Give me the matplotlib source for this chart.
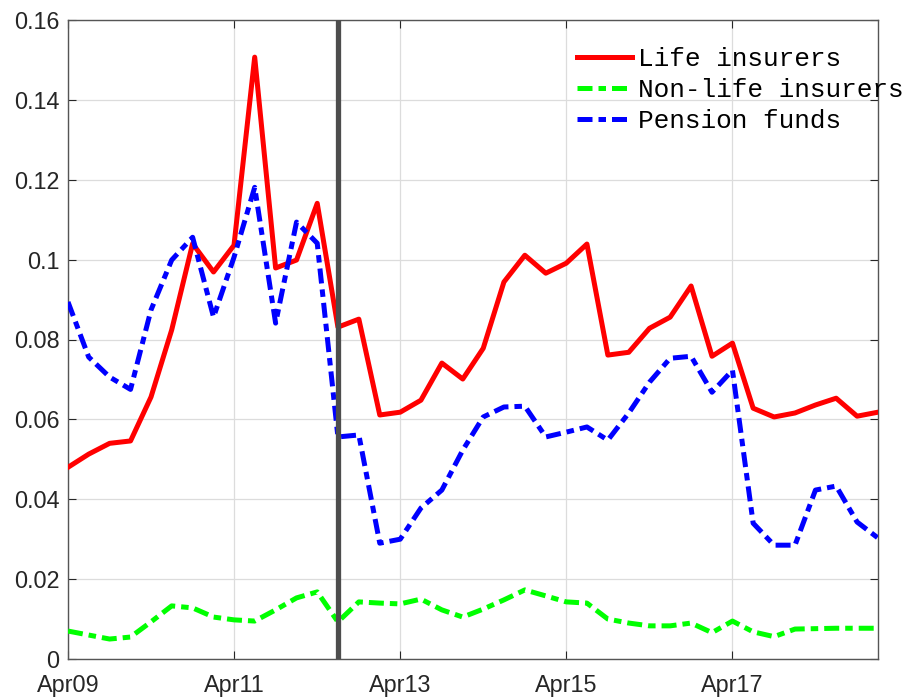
import pandas as pd
import matplotlib
matplotlib.use("Agg")
import matplotlib.pyplot as plt
import matplotlib.dates as mdates
from matplotlib.ticker import FuncFormatter

# Quarterly series, Apr09 .. Jan19
fechas = pd.date_range("2009-04-01", periods=40, freq="QS")

life = [0.0480, 0.0513, 0.0540, 0.0546, 0.0656, 0.0824, 0.1040, 0.0969, 0.1036, 0.1507,
        0.0979, 0.0999, 0.1141, 0.0831, 0.0851, 0.0611, 0.0618, 0.0648, 0.0741, 0.0701,
        0.0778, 0.0944, 0.1011, 0.0966, 0.0991, 0.1039, 0.0761, 0.0768, 0.0828, 0.0856,
        0.0934, 0.0758, 0.0791, 0.0628, 0.0606, 0.0616, 0.0636, 0.0653, 0.0608, 0.0618]

non_life = [0.0070, 0.0060, 0.0050, 0.0055, 0.0093, 0.0133, 0.0128, 0.0105, 0.0098, 0.0095,
            0.0123, 0.0153, 0.0168, 0.0093, 0.0143, 0.0140, 0.0138, 0.0150, 0.0123, 0.0105,
            0.0125, 0.0148, 0.0173, 0.0158, 0.0143, 0.0140, 0.0100, 0.0090, 0.0083, 0.0083,
            0.0090, 0.0066, 0.0095, 0.0068, 0.0056, 0.0075, 0.0076, 0.0077, 0.0077, 0.0077]

pension = [0.0894, 0.0756, 0.0706, 0.0675, 0.0874, 0.0999, 0.1056, 0.0856, 0.1006, 0.1181,
           0.0841, 0.1094, 0.1041, 0.0556, 0.0561, 0.0290, 0.0300, 0.0378, 0.0423, 0.0523,
           0.0606, 0.0631, 0.0633, 0.0556, 0.0568, 0.0581, 0.0548, 0.0616, 0.0693, 0.0753,
           0.0758, 0.0668, 0.0723, 0.0340, 0.0285, 0.0285, 0.0423, 0.0433, 0.0343, 0.0303]

etiquetas = ["Life insurers", "Non-life insurers", "Pension funds"]
fecha_evento = pd.Timestamp("2012-07-01")
ticks_x = pd.to_datetime(["2009-04-01", "2011-04-01", "2013-04-01", "2015-04-01", "2017-04-01"])

gris = "#262626"

fig = plt.figure(figsize=(9.07, 7.0), dpi=100)
ax = fig.add_axes([68 / 907, 41 / 700, 810 / 907, 639 / 700])

ax.plot(fechas, life, color="red", lw=3.6, label=etiquetas[0], zorder=3)
ax.plot(fechas, non_life, color="#00ff00", lw=3.6, dashes=(3.0, 1.2, 1.5, 1.2),
        label=etiquetas[1], zorder=3)
ax.plot(fechas, pension, color="blue", lw=3.6, dashes=(3.0, 1.2, 1.5, 1.2),
        label=etiquetas[2], zorder=3)
ax.axvline(fecha_evento, color="#4d4d4d", lw=3.8, zorder=4)

ax.set_xlim(fechas[0], fechas[-1])
ax.set_ylim(0, 0.16)
ax.set_yticks([0, 0.02, 0.04, 0.06, 0.08, 0.1, 0.12, 0.14, 0.16])
ax.yaxis.set_major_formatter(FuncFormatter(lambda v, p: "%g" % round(v, 2)))
ax.set_xticks(ticks_x)
ax.xaxis.set_major_formatter(mdates.DateFormatter("%b%y"))

ax.grid(True, color="#dcdcdc", lw=0.9)
ax.set_axisbelow(True)
ax.tick_params(direction="in", length=6, width=0.8, colors=gris, labelsize=16.8,
               top=True, right=True)
ax.tick_params(axis="y", pad=6)
ax.tick_params(axis="x", pad=11)
for lbl in ax.get_xticklabels() + ax.get_yticklabels():
    lbl.set_family("Liberation Sans")
for s in ax.spines.values():
    s.set_color("#555555")
    s.set_linewidth(1.0)

leg = ax.legend(loc="upper left", bbox_to_anchor=(0.6156, 0.9745), frameon=False,
                prop={"family": "Liberation Mono", "size": 18.8},
                handlelength=2.1, handletextpad=0.25, labelspacing=0.27,
                borderaxespad=0.0)
leg.set_zorder(5)

plt.savefig("out.png", dpi=100)
